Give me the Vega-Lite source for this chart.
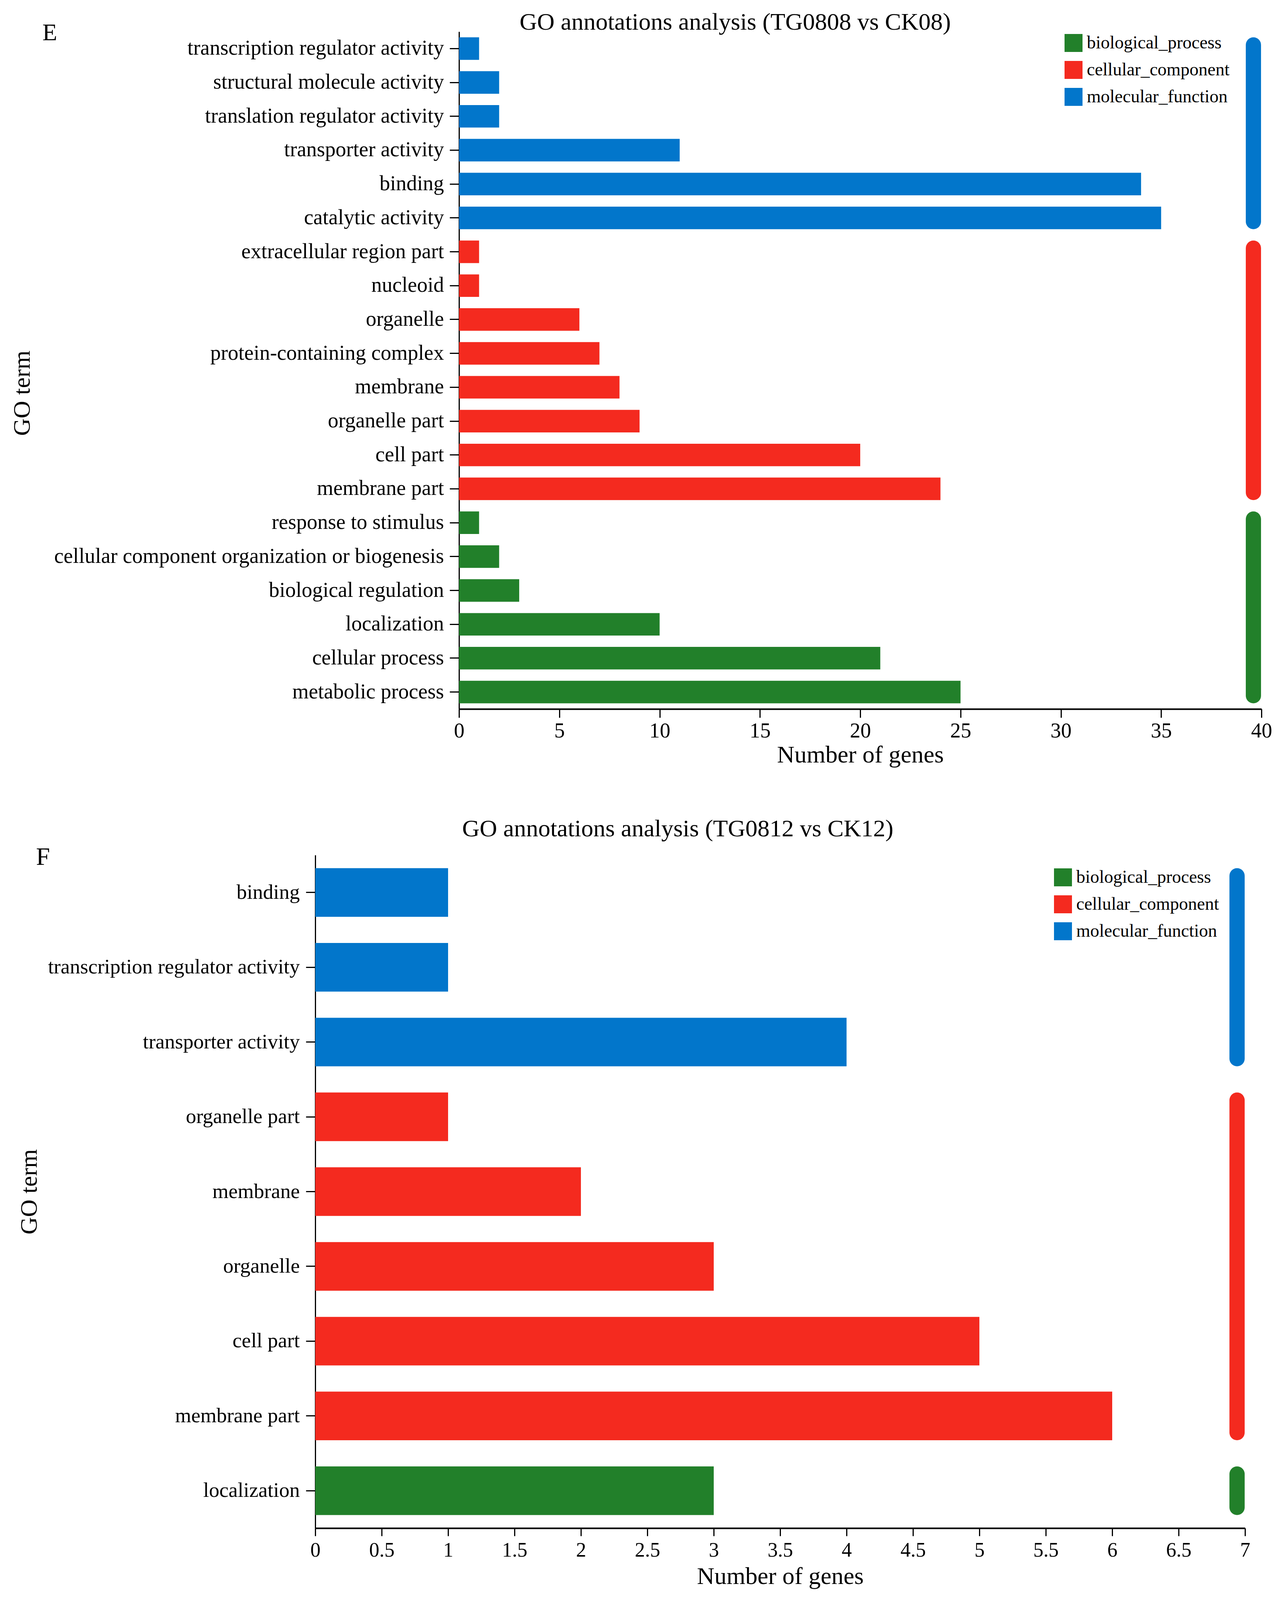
{
  "$schema": "https://vega.github.io/schema/vega-lite/v6.json",
  "background": "white",
  "padding": {"left": 25, "top": 25, "right": 5, "bottom": 5},
  "config": {
    "font": "Liberation Serif",
    "view": {"stroke": null},
    "axis": {"grid": false, "labelColor": "black", "titleColor": "black", "domainColor": "black", "tickColor": "black", "titleFontWeight": "normal", "labelLimit": 0, "labelFlush": false},
    "title": {"fontWeight": "normal", "color": "black", "fontSize": 62, "baseline": "alphabetic"},
    "legend": {"labelColor": "black"}
  },
  "datasets": {
    "e_terms": [
      {"term": "transcription regulator activity", "count": 1, "category": "molecular_function"},
      {"term": "structural molecule activity", "count": 2, "category": "molecular_function"},
      {"term": "translation regulator activity", "count": 2, "category": "molecular_function"},
      {"term": "transporter activity", "count": 11, "category": "molecular_function"},
      {"term": "binding", "count": 34, "category": "molecular_function"},
      {"term": "catalytic activity", "count": 35, "category": "molecular_function"},
      {"term": "extracellular region part", "count": 1, "category": "cellular_component"},
      {"term": "nucleoid", "count": 1, "category": "cellular_component"},
      {"term": "organelle", "count": 6, "category": "cellular_component"},
      {"term": "protein-containing complex", "count": 7, "category": "cellular_component"},
      {"term": "membrane", "count": 8, "category": "cellular_component"},
      {"term": "organelle part", "count": 9, "category": "cellular_component"},
      {"term": "cell part", "count": 20, "category": "cellular_component"},
      {"term": "membrane part", "count": 24, "category": "cellular_component"},
      {"term": "response to stimulus", "count": 1, "category": "biological_process"},
      {"term": "cellular component organization or biogenesis", "count": 2, "category": "biological_process"},
      {"term": "biological regulation", "count": 3, "category": "biological_process"},
      {"term": "localization", "count": 10, "category": "biological_process"},
      {"term": "cellular process", "count": 21, "category": "biological_process"},
      {"term": "metabolic process", "count": 25, "category": "biological_process"}
    ],
    "e_groups": [
      {"category": "molecular_function", "first": "transcription regulator activity", "last": "catalytic activity"},
      {"category": "cellular_component", "first": "extracellular region part", "last": "membrane part"},
      {"category": "biological_process", "first": "response to stimulus", "last": "metabolic process"}
    ],
    "f_terms": [
      {"term": "binding", "count": 1, "category": "molecular_function"},
      {"term": "transcription regulator activity", "count": 1, "category": "molecular_function"},
      {"term": "transporter activity", "count": 4, "category": "molecular_function"},
      {"term": "organelle part", "count": 1, "category": "cellular_component"},
      {"term": "membrane", "count": 2, "category": "cellular_component"},
      {"term": "organelle", "count": 3, "category": "cellular_component"},
      {"term": "cell part", "count": 5, "category": "cellular_component"},
      {"term": "membrane part", "count": 6, "category": "cellular_component"},
      {"term": "localization", "count": 3, "category": "biological_process"}
    ],
    "f_groups": [
      {"category": "molecular_function", "first": "binding", "last": "transporter activity"},
      {"category": "cellular_component", "first": "organelle part", "last": "membrane part"},
      {"category": "biological_process", "first": "localization", "last": "localization"}
    ]
  },
  "columns": 1,
  "spacing": 128,
  "resolve": {"scale": {"color": "independent"}, "legend": {"color": "independent"}},
  "concat": [
    {
      "width": 2422,
      "height": 1734,
      "title": {"text": "GO annotations analysis (TG0808 vs CK08)", "anchor": "middle", "dx": -136, "offset": -36},
      "layer": [
        {
          "data": {"name": "e_terms"},
          "mark": {"type": "bar"},
          "encoding": {
            "y": {
              "field": "term", "type": "nominal", "title": "GO term",
              "scale": {"domain": ["transcription regulator activity", "structural molecule activity", "translation regulator activity", "transporter activity", "binding", "catalytic activity", "extracellular region part", "nucleoid", "organelle", "protein-containing complex", "membrane", "organelle part", "cell part", "membrane part", "response to stimulus", "cellular component organization or biogenesis", "biological regulation", "localization", "cellular process", "metabolic process"], "paddingInner": 0.335, "paddingOuter": 0.1675},
              "axis": {"offset": -368, "labelFontSize": 54, "labelPadding": 15, "tickSize": 24, "tickWidth": 3, "domainWidth": 3, "titleFontSize": 62, "titlePadding": 47, "minExtent": 1040, "maxExtent": 1040, "titleY": 925}
            },
            "x": {
              "field": "count", "type": "quantitative", "title": "Number of genes",
              "scale": {"domain": [0, 40], "nice": false, "range": [368, 2422]},
              "axis": {"values": [0, 5, 10, 15, 20, 25, 30, 35, 40], "format": "d", "labelFontSize": 54, "labelPadding": 7, "tickSize": 22, "tickWidth": 3, "domainWidth": 4, "titleFontSize": 62, "titlePadding": 4}
            },
            "color": {
              "field": "category", "type": "nominal",
              "scale": {"domain": ["biological_process", "cellular_component", "molecular_function"], "range": ["#22802a", "#f42a1f", "#0276cb"]},
              "legend": {"orient": "none", "legendX": 1918, "legendY": 6, "title": null, "symbolType": "square", "symbolSize": 2116, "symbolStrokeWidth": 0, "labelFontSize": 46, "labelOffset": 11, "rowPadding": 23, "padding": 0, "labelLimit": 0}
            }
          }
        },
        {
          "data": {"name": "e_groups"},
          "mark": {"type": "rule", "strokeWidth": 39, "strokeCap": "round", "yOffset": -9.3, "y2Offset": 9.3},
          "encoding": {
            "x": {"datum": 39.6, "type": "quantitative"},
            "y": {"field": "first", "type": "nominal"},
            "y2": {"field": "last"},
            "color": {"field": "category", "type": "nominal", "legend": null}
          }
        },
        {
          "data": {"values": [{"label": "E"}]},
          "mark": {"type": "text", "fontSize": 62, "align": "center", "baseline": "middle", "color": "black"},
          "encoding": {
            "x": {"datum": -20.4, "type": "quantitative"},
            "y": {"datum": "transcription regulator activity", "type": "nominal", "bandPosition": -0.2},
            "text": {"field": "label"}
          }
        }
      ]
    },
    {
      "width": 2380,
      "height": 1723,
      "title": {"text": "GO annotations analysis (TG0812 vs CK12)", "anchor": "middle", "dx": -262, "offset": 9},
      "layer": [
        {
          "data": {"name": "f_terms"},
          "mark": {"type": "bar"},
          "encoding": {
            "y": {
              "field": "term", "type": "nominal", "title": "GO term",
              "scale": {"domain": ["binding", "transcription regulator activity", "transporter activity", "organelle part", "membrane", "organelle", "cell part", "membrane part", "localization"], "paddingInner": 0.35, "paddingOuter": 0.175},
              "axis": {"labelFontSize": 53, "labelPadding": 16, "tickSize": 24, "tickWidth": 3, "domainWidth": 3, "titleFontSize": 62, "titlePadding": 21, "minExtent": 680, "maxExtent": 680}
            },
            "x": {
              "field": "count", "type": "quantitative", "title": "Number of genes",
              "scale": {"domain": [0, 7], "nice": false},
              "axis": {"values": [0, 0.5, 1, 1.5, 2, 2.5, 3, 3.5, 4, 4.5, 5, 5.5, 6, 6.5, 7], "format": "~g", "labelFontSize": 52, "labelPadding": 11, "tickSize": 20, "tickWidth": 3, "domainWidth": 4, "titleFontSize": 62, "titlePadding": 11}
            },
            "color": {
              "field": "category", "type": "nominal",
              "scale": {"domain": ["biological_process", "cellular_component", "molecular_function"], "range": ["#22802a", "#f42a1f", "#0276cb"]},
              "legend": {"orient": "none", "legendX": 1891, "legendY": 34, "title": null, "symbolType": "square", "symbolSize": 2116, "symbolStrokeWidth": 0, "labelFontSize": 46, "labelOffset": 11, "rowPadding": 23, "padding": 0, "labelLimit": 0}
            }
          }
        },
        {
          "data": {"name": "f_groups"},
          "mark": {"type": "rule", "strokeWidth": 39, "strokeCap": "round", "yOffset": -42.7, "y2Offset": 42.7},
          "encoding": {
            "x": {"datum": 6.94, "type": "quantitative"},
            "y": {"field": "first", "type": "nominal"},
            "y2": {"field": "last"},
            "color": {"field": "category", "type": "nominal", "legend": null}
          }
        },
        {
          "data": {"values": [{"label": "F"}]},
          "mark": {"type": "text", "fontSize": 64, "align": "center", "baseline": "middle", "color": "black"},
          "encoding": {
            "x": {"datum": -2.05, "type": "quantitative"},
            "y": {"datum": "binding", "type": "nominal", "bandPosition": -0.22},
            "text": {"field": "label"}
          }
        }
      ]
    }
  ]
}
